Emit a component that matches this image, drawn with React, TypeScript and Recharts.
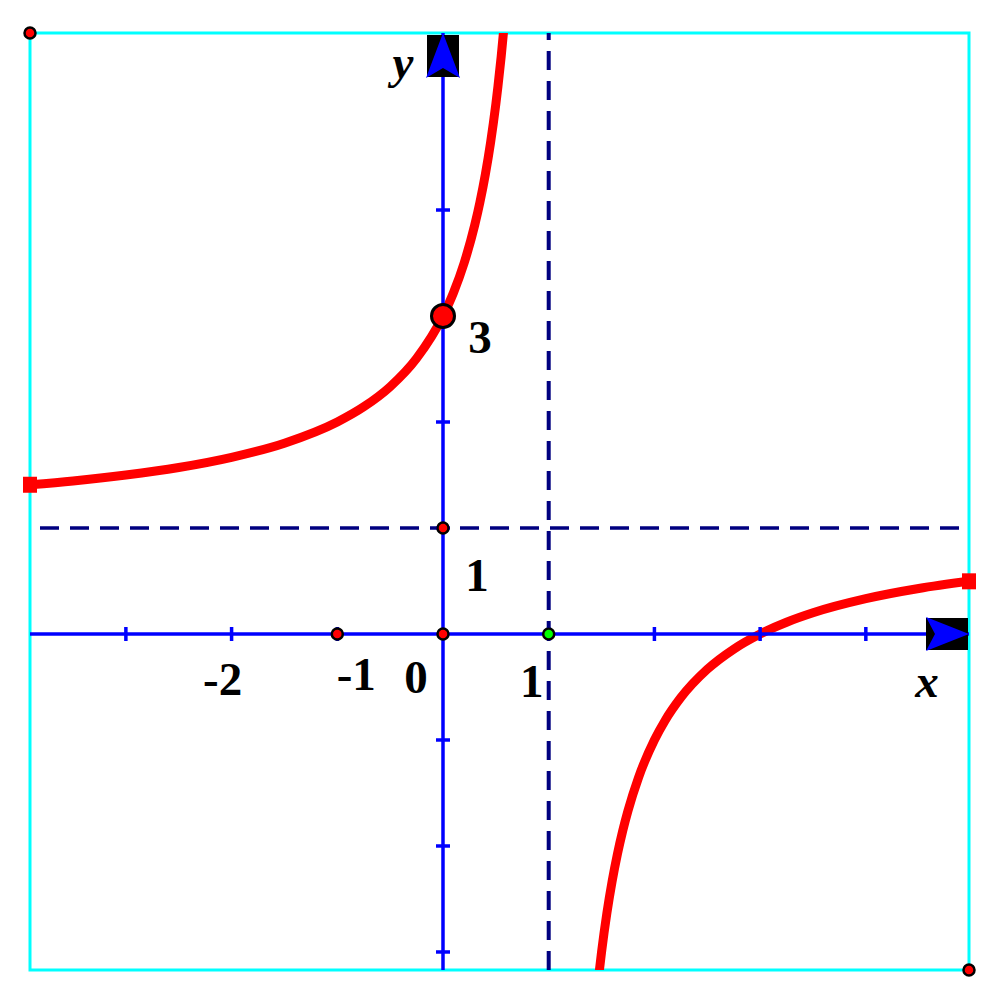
import React from "react";
import { ComposedChart, Line, XAxis, YAxis, ReferenceLine, ReferenceDot, ReferenceArea } from "recharts";

// View window (data units)
const xDomain: [number, number] = [-3.907, 4.976];
const yDomain: [number, number] = [-3.17, 5.67];

// Left branch of the curve
const leftX = [-3.907, -3.5, -3, -2.5, -2, -1.5, -1, -0.75, -0.5, -0.25, 0, 0.1, 0.2, 0.3, 0.35, 0.4, 0.45, 0.5, 0.52, 0.55, 0.575];
const leftY = [1.408, 1.444, 1.5, 1.571, 1.667, 1.8, 2, 2.143, 2.333, 2.6, 3, 3.222, 3.5, 3.857, 4.077, 4.333, 4.636, 5.0, 5.167, 5.444, 5.706];

// Right branch of the curve
const rightX = [1.475, 1.5, 1.55, 1.6, 1.65, 1.7, 1.75, 1.85, 2, 2.1, 2.25, 2.5, 2.75, 3, 3.25, 3.5, 4, 4.5, 4.976];
const rightY = [-3.21, -3.0, -2.636, -2.333, -2.077, -1.857, -1.667, -1.353, -1, -0.818, -0.6, -0.333, -0.143, 0, 0.111, 0.2, 0.333, 0.429, 0.497];

const xTicks = [-3, -2, -1, 1, 2, 3, 4];
const yTicks = [-3, -2, -1, 1, 2, 3, 4];

const asymptoteX = 1;
const asymptoteY = 1;

const redDots = [
  { x: -1, y: 0 },
  { x: 0, y: 0 },
  { x: 0, y: 1 },
];
const greenDots = [{ x: 1, y: 0 }];
const bigDot = { x: 0, y: 3 };

const labels = [
  { x: -2, y: 0, text: "-2", dx: -9, dy: 61, italic: false },
  { x: -1, y: 0, text: "-1", dx: 19, dy: 56, italic: false },
  { x: 0, y: 0, text: "0", dx: -27, dy: 59, italic: false },
  { x: 1, y: 0, text: "1", dx: -17, dy: 63, italic: false },
  { x: 0, y: 1, text: "1", dx: 34, dy: 63, italic: false },
  { x: 0, y: 3, text: "3", dx: 37, dy: 37, italic: false },
  { x: 4.976, y: 0, text: "x", dx: -42, dy: 63, italic: true },
  { x: 0, y: 5.67, text: "y", dx: -40, dy: 45, italic: true },
];

const leftData = leftX.map((x, i) => ({ x, ly: leftY[i] }));
const rightData = rightX.map((x, i) => ({ x, ry: rightY[i] }));
const data = [...leftData, ...rightData];

const BLUE = "#0000FF";
const NAVY = "#000080";
const RED = "#FF0000";
const CYAN = "#00FFFF";

const XTick = (p: any) => (
  <line x1={p.cx} y1={p.cy - 7} x2={p.cx} y2={p.cy + 7} stroke={BLUE} strokeWidth={3.5} />
);
const YTick = (p: any) => (
  <line x1={p.cx - 7} y1={p.cy} x2={p.cx + 7} y2={p.cy} stroke={BLUE} strokeWidth={3.5} />
);
const XArrow = (p: any) => (
  <g>
    <rect x={p.cx - 43} y={p.cy - 16} width={42} height={32} fill="#000" />
    <polygon
      points={`${p.cx - 43},${p.cy - 17} ${p.cx},${p.cy} ${p.cx - 43},${p.cy + 17} ${p.cx - 34},${p.cy}`}
      fill={BLUE}
    />
  </g>
);
const YArrow = (p: any) => (
  <g>
    <rect x={p.cx - 16} y={p.cy + 2} width={32} height={42} fill="#000" />
    <polygon
      points={`${p.cx},${p.cy} ${p.cx + 17},${p.cy + 45} ${p.cx},${p.cy + 35} ${p.cx - 17},${p.cy + 45}`}
      fill={BLUE}
    />
  </g>
);
const EndCap = (p: any) => (
  <rect x={p.cx - 7} y={p.cy - 8} width={14} height={16} fill={RED} />
);

export default function App() {
  return (
    <div style={{ position: "absolute", left: 0, top: 0, width: 1000, height: 1000, background: "#fff" }}>
      <ComposedChart
        width={1000}
        height={1000}
        data={data}
        margin={{ top: 33, right: 31, bottom: 30, left: 30 }}
      >
        <XAxis type="number" dataKey="x" domain={xDomain} allowDataOverflow hide />
        <YAxis type="number" domain={yDomain} allowDataOverflow hide />

        <ReferenceLine y={asymptoteY} stroke={NAVY} strokeWidth={3.5} strokeDasharray="19 11" strokeDashoffset={20} />
        <ReferenceLine x={asymptoteX} stroke={NAVY} strokeWidth={4} strokeDasharray="19 11" />

        <Line
          dataKey="ly"
          type="monotone"
          stroke={RED}
          strokeWidth={9}
          dot={false}
          isAnimationActive={false}
          connectNulls={false}
        />
        <Line
          dataKey="ry"
          type="monotone"
          stroke={RED}
          strokeWidth={9}
          dot={false}
          isAnimationActive={false}
          connectNulls={false}
        />

        <ReferenceLine y={0} stroke={BLUE} strokeWidth={3.5} />
        <ReferenceLine x={0} stroke={BLUE} strokeWidth={3.5} />

        <ReferenceArea
          x1={xDomain[0]}
          x2={xDomain[1]}
          y1={yDomain[0]}
          y2={yDomain[1]}
          fill="none"
          fillOpacity={0}
          stroke={CYAN}
          strokeWidth={3}
        />

        {xTicks.map((t) => (
          <ReferenceDot key={"xt" + t} x={t} y={0} shape={XTick} />
        ))}
        {yTicks.map((t) => (
          <ReferenceDot key={"yt" + t} x={0} y={t} shape={YTick} />
        ))}

        <ReferenceDot x={leftX[0]} y={leftY[0]} shape={EndCap} />
        <ReferenceDot x={rightX[rightX.length - 1]} y={rightY[rightY.length - 1]} shape={EndCap} />

        <ReferenceDot x={xDomain[1]} y={0} shape={XArrow} />
        <ReferenceDot x={0} y={yDomain[1]} shape={YArrow} />

        {redDots.map((d, i) => (
          <ReferenceDot key={"rd" + i} x={d.x} y={d.y} r={5.5} fill={RED} stroke="#000" strokeWidth={2.5} />
        ))}
        {greenDots.map((d, i) => (
          <ReferenceDot key={"gd" + i} x={d.x} y={d.y} r={5.5} fill="#00FF00" stroke="#000" strokeWidth={2.5} />
        ))}
        <ReferenceDot x={xDomain[0]} y={yDomain[1]} r={5.5} fill={RED} stroke="#000" strokeWidth={2.5} />
        <ReferenceDot x={xDomain[1]} y={yDomain[0]} r={5.5} fill={RED} stroke="#000" strokeWidth={2.5} />
        <ReferenceDot x={bigDot.x} y={bigDot.y} r={11.5} fill={RED} stroke="#000" strokeWidth={3} />

        {labels.map((l, i) => (
          <ReferenceDot
            key={"lb" + i}
            x={l.x}
            y={l.y}
            shape={(p: any) => (
              <text
                x={p.cx + l.dx}
                y={p.cy + l.dy}
                textAnchor="middle"
                fontFamily="'Liberation Serif', 'Times New Roman', serif"
                fontWeight="bold"
                fontStyle={l.italic ? "italic" : "normal"}
                fontSize={47}
                fill="#000"
              >
                {l.text}
              </text>
            )}
          />
        ))}
      </ComposedChart>
    </div>
  );
}
